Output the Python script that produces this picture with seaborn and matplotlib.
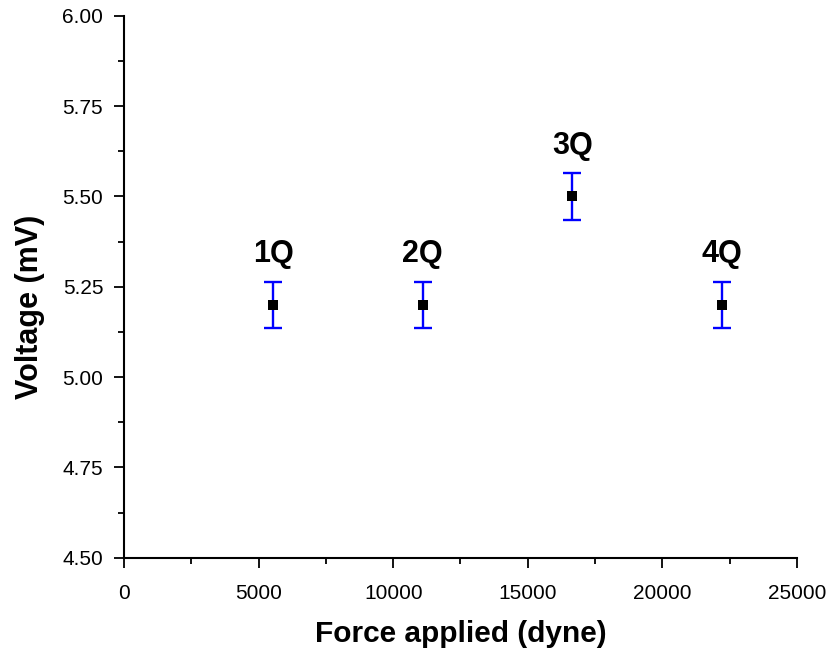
import numpy as np
import pandas as pd
import matplotlib
matplotlib.use("Agg")
import matplotlib.pyplot as plt
import seaborn as sns
from matplotlib.ticker import MultipleLocator, FormatStrFormatter

force = [5550, 11100, 16650, 22200]
voltage = [5.20, 5.20, 5.50, 5.20]
err = [0.063, 0.063, 0.066, 0.063]
labels = ["1Q", "2Q", "3Q", "4Q"]

sns.set_style("ticks")
plt.rcParams["font.family"] = ["Liberation Sans", "DejaVu Sans"]
plt.rcParams["text.color"] = "black"
plt.rcParams["axes.labelcolor"] = "black"
plt.rcParams["xtick.color"] = "black"
plt.rcParams["ytick.color"] = "black"
plt.rcParams["axes.edgecolor"] = "black"

df = pd.DataFrame({"force": force, "voltage": voltage, "err": err, "label": labels})

fig = plt.figure(figsize=(8.38, 6.57), dpi=100)
ax = fig.add_axes([0.148, 0.151, 0.803, 0.825])

ax.errorbar(df["force"], df["voltage"], yerr=df["err"], fmt="none",
            ecolor="#0000ff", elinewidth=1.7, capsize=6.5, capthick=1.7, zorder=2)
sns.scatterplot(data=df, x="force", y="voltage", marker="s", s=50,
                color="black", edgecolor="black", linewidth=0, ax=ax, zorder=3)

for _, r in df.iterrows():
    ax.text(r["force"], r["voltage"] + 0.14, r["label"], ha="center", va="center",
            fontsize=22, fontweight="bold")

ax.set_xlim(0, 25000)
ax.set_ylim(4.5, 6.0)
ax.xaxis.set_major_locator(MultipleLocator(5000))
ax.xaxis.set_minor_locator(MultipleLocator(2500))
ax.yaxis.set_major_locator(MultipleLocator(0.25))
ax.yaxis.set_minor_locator(MultipleLocator(0.125))
ax.yaxis.set_major_formatter(FormatStrFormatter("%.2f"))
ax.tick_params(which="major", length=7, width=1.3, labelsize=15, direction="out")
ax.tick_params(axis="x", which="major", pad=12)
ax.tick_params(axis="y", which="major", pad=8)
ax.tick_params(which="minor", length=4, width=1.3, direction="out")
for s in ["left", "bottom"]:
    ax.spines[s].set_linewidth(1.5)
sns.despine(ax=ax)

ax.set_xlabel("Force applied (dyne)", fontsize=21.5, fontweight="bold", labelpad=12)
ax.set_ylabel("Voltage (mV)", fontsize=22, fontweight="bold", labelpad=12)
ax.yaxis.set_label_coords(-0.118, 0.463)

fig.savefig("out.png", dpi=100)
